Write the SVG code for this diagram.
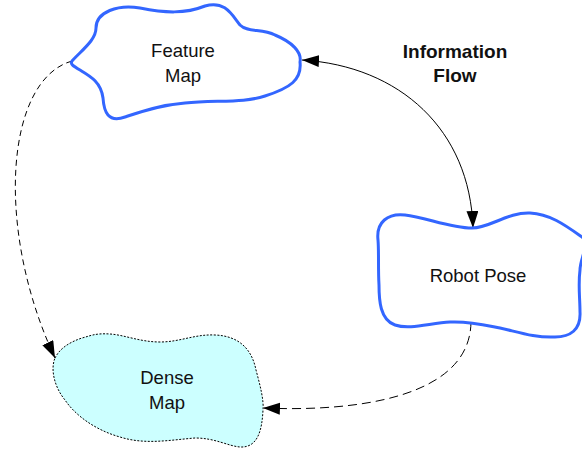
<svg xmlns="http://www.w3.org/2000/svg" width="582" height="453" viewBox="0 0 582 453">
<style>
.cloud{fill:#ffffff;stroke:#3366ff;stroke-width:3;stroke-linejoin:round}
.dense{fill:#ccffff;stroke:#000;stroke-width:1;stroke-dasharray:2 1.5}
.lbl{font-family:"Liberation Sans",Arial,sans-serif;font-size:18.5px;fill:#111;text-anchor:middle}
.bold{font-weight:bold;font-size:19px}
.conn{fill:none;stroke:#000;stroke-width:1}
.d1{stroke-dasharray:6 4}
.d2{stroke-dasharray:9 5}
</style>
<defs>
<marker id="arr" markerUnits="userSpaceOnUse" markerWidth="18" markerHeight="13" refX="17" refY="6" orient="auto-start-reverse" viewBox="0 0 18 13">
<path d="M0,0 L17,6 L0,12 z" fill="#000" stroke="none"/>
</marker>
</defs>
<rect width="582" height="453" fill="#fff"/>
<g id="connectors">
<path class="conn" d="M302,60 C400,66 470,130 473,228" marker-start="url(#arr)" marker-end="url(#arr)"/>
<path class="conn d1" d="M72,61 C5,80 -5,230 55,358" marker-end="url(#arr)"/>
<path class="conn d2" d="M471,322 C470,398 355,412 263,408" marker-end="url(#arr)"/>
</g>
<g id="feature-map">
<path class="cloud" d="M72,61 C82,50 96,40 96,28 C96,12 118,4 140,8 C165,13 185,14 205,6 C225,0 232,15 240,25 C248,33 262,28 275,35 C292,42 302,52 300,62 C302,80 290,88 265,96 C245,103 215,100 185,103 C160,105 140,112 125,117 C108,123 104,112 103,98 C101,82 90,76 80,70 C73,66 70,64 72,61 Z"/>
<text class="lbl" x="183" y="57">Feature</text>
<text class="lbl" x="183" y="81.5">Map</text>
</g>
<g id="robot-pose">
<path class="cloud" d="M378,240 C376,222 388,213 405,215 C425,217 450,228 472,228 C490,228 508,212 530,213 C550,214 565,225 582,237 C590,245 580,258 580,270 C578,285 580,298 580,312 C581,330 570,337 555,337 C535,338 518,332 500,328 C485,325 470,321 450,322 C430,323 410,330 395,325 C380,320 379,300 379,285 C378,268 379,252 378,240 Z"/>
<text class="lbl" x="478" y="281.5">Robot Pose</text>
</g>
<g id="dense-map">
<path class="dense" d="M55,358 C60,348 70,342 82,338 C90,336 95,333 110,334 C125,335 140,342 160,342 C180,342 195,334 215,335 C240,336 252,350 256,370 C260,385 264,400 263,410 C262,430 258,448 240,447 C228,446 215,438 195,438 C170,440 145,445 120,437 C95,430 75,415 65,400 C55,388 50,370 55,358 Z"/>
<text class="lbl" x="167" y="384">Dense</text>
<text class="lbl" x="167" y="409">Map</text>
</g>
<g id="info-flow-label">
<text class="lbl bold" x="455" y="58">Information</text>
<text class="lbl bold" x="455" y="82">Flow</text>
</g>
</svg>
